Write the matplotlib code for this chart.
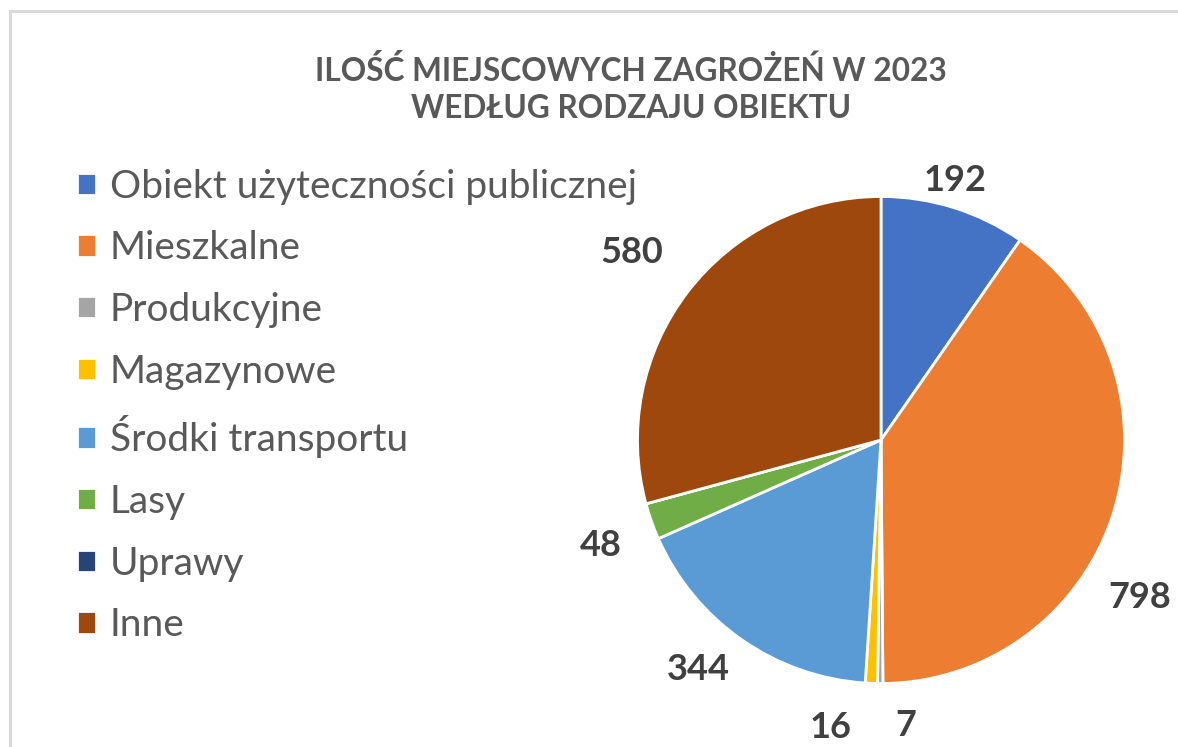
import matplotlib
matplotlib.use("Agg")
import numpy as np
import matplotlib.pyplot as plt
from matplotlib.lines import Line2D

plt.rcParams['font.family'] = ['Lato', 'DejaVu Sans']

categories = ["Obiekt użyteczności publicznej", "Mieszkalne", "Produkcyjne", "Magazynowe",
              "Środki transportu", "Lasy", "Uprawy", "Inne"]
values = [192, 798, 7, 16, 344, 48, 0, 580]
colors = ["#4472C4", "#ED7D31", "#A5A5A5", "#FFC000", "#5B9BD5", "#70AD47", "#264478", "#9E480E"]

# label placement tweaks (angle shift in degrees, distance in radii)
lbl_shift = [1.5, -14.2, 5.2, -7.7, -3.6, 1.0, 0, 0.5]
lbl_dist = [1.11, 1.245, 1.175, 1.20, 1.207, 1.23, 1.2, 1.28]

W, H = 1178, 747
fig = plt.figure(figsize=(W / 100, H / 100), dpi=100)

cx, cy, r = 881, 440, 243.5
ax = fig.add_axes([(cx - r) / W, (H - cy - r) / H, 2 * r / W, 2 * r / H])
wedges, _ = ax.pie(values, colors=colors, startangle=90, counterclock=False,
                   wedgeprops=dict(edgecolor="white", linewidth=2))
ax.set_xlim(-1, 1)
ax.set_ylim(-1, 1)
ax.set_aspect("equal")
ax.axis("off")

for w, v, s, d in zip(wedges, values, lbl_shift, lbl_dist):
    if v == 0:
        continue
    a = np.deg2rad((w.theta1 + w.theta2) / 2 + s)
    ax.text(d * np.cos(a), d * np.sin(a), str(v), ha="center", va="center",
            fontsize=26, fontweight="bold", color="#404040", clip_on=False)

fig.text(631 / W, 1 - 89 / H, "ILOŚĆ MIEJSCOWYCH ZAGROŻEŃ W 2023\nWEDŁUG RODZAJU OBIEKTU",
         ha="center", va="center", fontsize=22.8, fontweight="bold", color="#595959",
         linespacing=1.32)

fig.legend(wedges, categories, loc="upper left", bbox_to_anchor=(61 / W, 1 - 153 / H),
           frameon=False, fontsize=28, labelcolor="#595959", handlelength=0.5,
           handleheight=0.5, handletextpad=0.35, labelspacing=0.66, borderaxespad=0)

# light chart-area border (top and left visible)
x0 = 9.5 / W
y0 = 1 - 11 / H
fig.add_artist(Line2D([x0, x0], [0, y0], color="#d9d9d9", linewidth=2.2, transform=fig.transFigure))
fig.add_artist(Line2D([x0, 1], [y0, y0], color="#d9d9d9", linewidth=2.2, transform=fig.transFigure))

fig.savefig("out.png", dpi=100, facecolor="white")
